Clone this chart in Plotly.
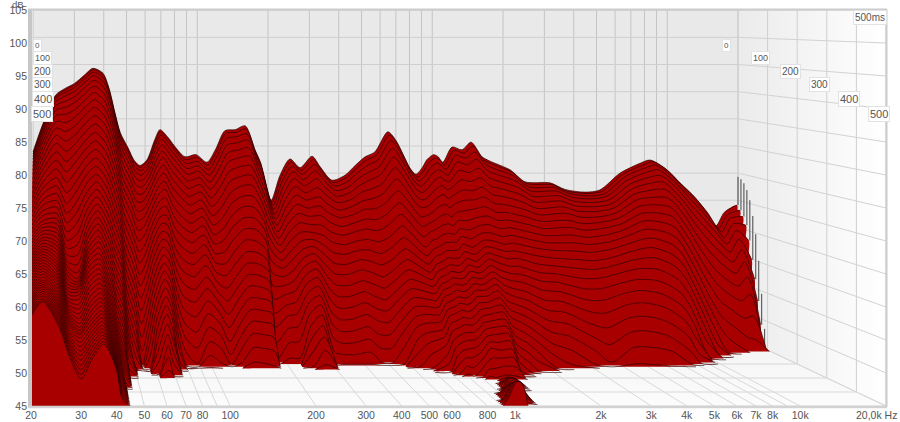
import math
import plotly.graph_objects as go

# ---- values: dB at t = 0, 10, 20 ... ms for one frequency each; lists stop at the 45 dB floor
F20 = [78.9,78.6,78.3,77.9,77.4,76.9,76.3,75.7,75,74.3,73.6,72.9,72.2,71.5,70.8,70.1,69.5,68.9,68.3,67.8,67.3,66.8,66.4,66,65.6,65.2,64.8,64.5,64.2,63.9,63.6,63.3,63,62.7,62.4,62.1,61.8,61.5,61.2,60.9,60.6,60.3,60.1,59.9,59.7,59.5,59.3,59.1,58.9,58.7,58.6]
F22 = [84,83.8,83.5,83.1,82.6,82,81.3,80.5,79.7,78.8,77.9,77,76,75,74.1,73.2,72.3,71.5,70.7,70,69.3,68.8,68.4,68,67.6,67.2,66.9,66.5,66.2,65.9,65.6,65.3,65,64.7,64.4,64.1,63.8,63.5,63.2,62.9,62.6,62.4,62.2,62,61.8,61.6,61.4,61.2,61,60.9,60.8]
F25 = [89.4,89.2,88.9,88.4,87.8,87,86.1,85.1,84,82.8,81.5,80.1,78.7,77.3,75.9,74.6,73.4,72.3,71.3,70.4,69.6,68.9,68.2,67.6,67,66.4,65.9,65.4,64.9,64.4,63.9,63.5,63.1,62.7,62.3,61.9,61.5,61.1,60.7,60.3,60,59.6,59.3,59,58.7,58.4,58.1,57.8,57.5,57.3,57.1]
F27 = [90.6,90.4,90,89.4,88.5,87.5,86.3,84.9,83.4,81.8,80.1,78.4,76.7,75,73.3,71.6,70,68.5,67.1,65.8,64.6,63.6,62.7,62,61.4,60.8,60.3,59.8,59.4,59,58.6,58.2,57.9,57.6,57.3,57,56.7,56.4,56.1,55.8,55.5,55.1,54.8,54.5,54.1,53.8,53.5,53.2,52.9,52.6,52.3]
F30 = [91.5,91.3,90.9,90.3,89.4,88.4,87.2,85.9,84.5,83,81.5,80,78.5,76.9,75.3,73.7,72,70.3,68.6,66.9,65.2,63.6,62.2,61,60.2,59.8,59.6,59.4,59.2,58.9,58.5,58,57.4,56.8,56.2,55.6,55,54.6,54.3,54.1,54,53.7,53.2,52.7,52.2,51.7,51.2,50.6,50.1,49.6,49.1]
F33 = [93,92.8,92.4,91.8,91,90,88.9,87.7,86.4,85,83.6,82.2,80.8,79.4,78,76.6,75.2,73.8,72.5,71.2,70,68.9,67.9,67,66.2,65.5,64.9,64.3,63.7,63.1,62.5,61.9,61.2,60.5,59.9,59.2,58.5,57.9,57.3,56.8,56.3,55.8,55.4,55,54.6,54.2,53.8,53.4,53,52.6,52.3]
F36 = [94.3,94.1,93.7,93.1,92.3,91.3,90.2,89,87.7,86.3,84.9,83.5,82.1,80.7,79.3,78,76.7,75.5,74.3,73.2,72.1,71.1,70.1,69.2,68.3,67.4,66.6,65.8,65,64.3,63.6,62.9,62.3,61.7,61.1,60.5,59.9,59.3,58.8,58.3,57.8,57.4,57,56.6,56.2,55.8,55.5,55.2,54.9,54.6,54.4]
F40 = [93.4,93.1,92.6,91.9,91,89.9,88.7,87.4,86,84.6,83.1,81.6,80.1,78.6,77.1,75.7,74.3,72.9,71.6,70.3,69.1,67.9,66.8,65.7,64.6,63.6,62.6,61.7,60.8,59.9,59.1,58.3,57.6,56.9,56.2,55.6,55,54.5,54,53.5,53.1,52.7,52.4,52.1,51.8,51.6,51.4,51.2,51,50.9,50.8]
F42 = [90.8,90.5,90,89.3,88.4,87.3,86.1,84.8,83.4,81.9,80.4,78.9,77.4,75.9,74.4,72.9,71.4,70,68.6,67.2,65.9,64.6,63.4,62.2,61.1,60,59,58,57.1,56.2,55.3,54.5,53.7,53,52.3,51.7,51.1,50.5,50,49.5,49,48.6,48.2,47.8,47.4,47.1,46.8,46.5,46.3,46.1,45.9]
F45 = [86,85.7,85.2,84.5,83.6,82.6,81.5,80.3,79,77.7,76.3,74.9,73.5,72.1,70.7,69.3,67.9,66.6,65.3,64,62.8,61.6,60.4,59.2,58.1,57,55.9,54.8,53.7,52.6,51.6,50.6,49.6,48.7,47.8,47,46.3,45.6,45.1]
F47 = [82.5,82.2,81.7,81,80.1,79,77.8,76.5,75.1,73.7,72.3,70.8,69.3,67.8,66.3,64.8,63.3,61.9,60.5,59.1,57.7,56.3,54.9,53.6,52.3,51,49.7,48.5,47.3,46.1,45.1]
F51 = [79.7,79.4,78.9,78.1,77.1,76,74.7,73.4,72,70.6,69.1,67.5,65.9,64.3,62.7,61.1,59.5,57.9,56.3,54.7,53.1,51.5,49.9,48.3,46.8,45.3]
F54 = [77.3,77,76.4,75.6,74.6,73.4,72.1,70.7,69.2,67.7,66.1,64.4,62.7,60.9,59.1,57.3,55.4,53.4,51.4,49.3,47.2,45.2]
F57 = [76.4,76.2,75.7,75,74.1,73.1,72,70.8,69.5,68.2,66.8,65.4,63.9,62.4,60.9,59.4,57.8,56.2,54.6,53,51.4,49.8,48.2,46.6,45.1]
F61 = [77.4,77.3,76.9,76.3,75.6,74.8,73.9,72.9,71.9,70.8,69.7,68.6,67.4,66.2,65,63.8,62.5,61.2,59.9,58.6,57.3,56,54.7,53.3,51.9,50.3,48.7,47,45.2]
F66 = [81.2,81,80.6,80,79.2,78.3,77.3,76.2,75.1,73.9,72.7,71.5,70.3,69.1,67.9,66.7,65.5,64.3,63.1,61.9,60.7,59.5,58.3,57,55.7,54.4,53,51.5,49.9,48.2,46.2]
F69 = [83,82.7,82.2,81.5,80.6,79.6,78.5,77.3,76,74.7,73.4,72,70.6,69.2,67.8,66.4,65,63.6,62.2,60.8,59.4,58,56.6,55.2,53.7,52.1,50.4,48.6,46.8,45.1]
F75 = [81.6,81.3,80.7,79.9,78.9,77.7,76.4,75,73.5,72,70.4,68.8,67.1,65.4,63.7,62,60.3,58.5,56.7,54.9,53,51.1,49.3,47.6,46,45.1]
F80 = [80,79.7,79.2,78.4,77.4,76.2,74.9,73.5,72.1,70.5,68.9,67.2,65.5,63.7,61.8,59.9,57.9,55.8,53.7,51.6,49.4,47.2,45.2]
F89 = [78,77.6,77,76.2,75.3,74.2,73,71.7,70.3,68.9,67.4,65.9,64.3,62.6,60.8,58.9,56.9,54.9,52.6,50.2,47.7,45.3]
F99 = [78.4,78,77.4,76.7,75.8,74.8,73.7,72.5,71.2,69.9,68.5,67.1,65.6,64.1,62.5,60.8,59,57.2,55.3,53.3,51.2,49,46.9,45.1]
F110 = [77,76.6,75.9,75,73.9,72.7,71.3,69.9,68.4,66.9,65.4,63.9,62.4,60.9,59.4,57.9,56.4,54.9,53.3,51.6,49.8,47.8,45.6]
F120 = [79.5,79.1,78.4,77.4,76.2,74.8,73.3,71.7,70,68.2,66.4,64.6,62.7,60.8,58.9,56.9,54.9,52.8,50.7,48.6,46.6,45.1]
F131 = [82.8,82.4,81.6,80.5,79.2,77.7,76.1,74.4,72.6,70.8,68.9,67,65,63,61,59,57.1,55.2,53.3,51.4,49.5,47.6,45.7]
F145 = [83,82.6,81.9,80.9,79.7,78.4,76.9,75.3,73.7,72,70.3,68.5,66.7,64.9,63,61.2,59.4,57.6,55.8,54,52.2,50.3,48.2,46]
F160 = [83.7,83.2,82.4,81.4,80.1,78.7,77.1,75.5,73.8,72,70.2,68.4,66.6,64.7,62.9,61.1,59.3,57.5,55.7,53.9,52.1,50.2,48.1,45.8]
F176 = [79.3,78.9,78.2,77.3,76.2,75,73.7,72.3,70.8,69.3,67.8,66.3,64.7,63.1,61.5,59.9,58.3,56.7,55.1,53.4,51.6,49.7,47.6,45.3]
F185 = [77.2,76.8,76.1,75.2,74.1,72.8,71.4,69.9,68.3,66.6,64.9,63.1,61.2,59.2,57.1,55,52.8,50.6,48.2,45.7]
F206 = [70,69.8,69.4,68.8,68.1,67.3,66.4,65.4,64.4,63.3,62.2,61,59.8,58.5,57.2,55.8,54.2,52.5,50.6,48.4,46]
F225 = [74.6,74.3,73.7,72.9,71.9,70.8,69.6,68.3,67,65.6,64.2,62.7,61.2,59.6,58,56.4,54.7,52.9,50.9,48.6,46]
F248 = [77.6,77.2,76.5,75.6,74.5,73.2,71.8,70.3,68.8,67.3,65.8,64.4,63.1,61.8,60.5,59.2,57.9,56.5,55,53.3,51.5,49.6,47.5,45.4]
F274 = [76,75.6,75,74.2,73.2,72.1,70.9,69.6,68.3,67,65.8,64.7,63.6,62.5,61.4,60.2,58.9,57.6,56.2,54.8,53.3,51.7,50,48,45.8]
F308 = [78.1,77.6,76.8,75.8,74.5,73,71.5,70,68.4,66.8,65.2,63.6,62,60.3,58.6,56.9,55.1,53.2,51.2,49.1,47,45.2]
F333 = [76.2,75.8,75.1,74.2,73,71.7,70.3,68.8,67.3,65.7,64.1,62.4,60.7,59,57.3,55.5,53.7,51.9,50.1,48.3,46.6,45.2]
F374 = [73.7,73.4,72.9,72.2,71.3,70.3,69.1,67.9,66.5,65.1,63.6,62.1,60.5,58.9,57.2,55.5,53.8,52,50.2,48.4,46.6,45.2]
F425 = [74.6,74.3,73.7,72.9,72,70.9,69.8,68.5,67.2,65.8,64.3,62.8,61.3,59.7,58,56.3,54.6,52.8,50.9,49,47,45.2]
F470 = [76.4,76,75.4,74.5,73.4,72.2,70.8,69.4,67.8,66.2,64.5,62.8,61,59.2,57.4,55.5,53.6,51.7,49.6,47.5,45.3]
F518 = [78,77.5,76.7,75.6,74.3,72.8,71.2,69.5,67.7,65.9,64.1,62.2,60.4,58.5,56.7,54.9,53.2,51.4,49.5,47.4,45.2]
F570 = [78.9,78.4,77.6,76.5,75.2,73.7,72.1,70.4,68.6,66.8,64.9,63.1,61.3,59.6,58,56.4,54.9,53.3,51.6,49.8,47.6,45.3]
F647 = [82.6,82.1,81.2,79.9,78.4,76.6,74.7,72.7,70.7,68.8,66.9,65,63.2,61.5,59.9,58.4,57,55.6,54.2,52.8,51.3,49.6,47.6,45.4]
F701 = [81,80.4,79.4,78.1,76.6,74.9,73.1,71.2,69.3,67.4,65.6,63.9,62.3,60.8,59.4,58.1,56.8,55.6,54.4,53.2,51.9,50.5,49,47.2,45.2]
F804 = [75.9,75.5,74.8,73.8,72.6,71.2,69.7,68.1,66.5,64.8,63.2,61.8,60.5,59.3,58.2,57.2,56.2,55.2,54.2,53.2,52.2,51.1,50,48.8,47.5,46.2,45.1]
F853 = [74.8,74.4,73.8,73,72,70.8,69.6,68.3,67,65.7,64.3,63,61.8,60.7,59.7,58.7,57.8,56.9,56,55.1,54.2,53.3,52.3,51.2,50.1,48.9,47.7,46.5,45.3]
F906 = [76,75.6,74.9,74,72.9,71.7,70.4,69,67.6,66.2,64.8,63.5,62.3,61.2,60.2,59.2,58.3,57.4,56.5,55.6,54.7,53.8,52.8,51.8,50.8,49.8,48.7,47.6,46.5,45.4]
F950 = [77.5,77,76.2,75.2,74,72.7,71.3,69.8,68.3,66.8,65.4,64.1,62.9,61.8,60.8,59.8,58.9,58,57.1,56.2,55.3,54.3,53.3,52.3,51.2,50.1,48.9,47.6,46.2,45.1,45,45,45,45,45,45,45,45,45,45,45,45,45,45,45,45,45.2,45.5,45.8,46,46.3]
F1014 = [78.4,77.9,77.1,76,74.8,73.4,71.9,70.3,68.7,67.1,65.6,64.2,62.9,61.7,60.6,59.6,58.7,57.8,56.9,56,55.1,54.1,53.1,52.2,51.2,50.2,49.2,48.2,47.2,46.2,45.2,45,45,45,45,45,45,45,45,45,45,45.3,45.7,46.2,46.7,47.1,47.5,47.8,48.2,48.5,48.7]
F1060 = [78,77.5,76.6,75.5,74.2,72.7,71.2,69.7,68.2,66.8,65.4,64.2,63,61.9,60.9,59.9,59,58.1,57.2,56.3,55.4,54.5,53.6,52.7,51.8,50.9,50,49.1,48.2,47.3,46.4,45.5,45,45,45,45,45,45,45.2,45.5,45.9,46.2,46.6,46.9,47.2,47.5,47.7,47.9,48.1,48.2,48.3]
F1109 = [77,76.6,75.9,75,74,72.9,71.7,70.4,69,67.7,66.4,65.2,64,62.9,61.9,60.9,60,59.1,58.2,57.3,56.4,55.5,54.6,53.7,52.8,51.9,51,50.2,49.4,48,46.5,45.3,45,45,45.2,45.5,45.9,46.3,46.7,47,47.2,47.3,47.4,47.4,47.3,47.1,46.8,46.4,46,45.5,45]
F1214 = [79.8,79.3,78.5,77.4,76,74.4,72.7,71,69.3,67.7,66.2,64.8,63.5,62.4,61.4,60.5,59.7,58.9,58.1,57.3,56.5,55.7,54.9,54.1,53.2,52.3,51.3,50.2,49.1,48,46.9,45.7,45.6,45.8,46,46.1,45.9,45.7,45.4,45.1]
F1339 = [79.3,78.8,78,76.9,75.6,74.1,72.6,71.1,69.7,68.3,67,65.8,64.7,63.7,62.8,61.9,61,60.1,59.2,58.3,57.4,56.4,55.4,54.4,53.4,52.4,51.4,50.4,49.3,48.1,46.8,45.5]
F1463 = [80.7,80.1,79.1,77.9,76.4,74.8,73.2,71.6,70,68.5,67.1,65.8,64.6,63.5,62.4,61.3,60.2,59.1,58,56.9,55.7,54.5,53.3,52,50.7,49.4,48.1,46.8,45.6,45.1]
F1629 = [78,77.5,76.8,75.8,74.6,73.2,71.8,70.4,69,67.7,66.4,65.2,64,62.9,61.8,60.7,59.6,58.5,57.3,56.1,54.9,53.6,52.3,50.9,49.5,48,46.5,45.2]
F1761 = [77.2,76.8,76.1,75.2,74.1,72.9,71.6,70.3,69,67.8,66.6,65.4,64.2,63,61.9,60.7,59.5,58.3,57,55.7,54.3,52.9,51.4,49.9,48.3,46.7,45.2]
F2143 = [75.6,75.3,74.7,73.9,72.9,71.8,70.6,69.4,68.2,67,65.8,64.6,63.4,62.2,60.9,59.6,58.3,56.9,55.4,53.9,52.3,50.6,48.8,47,45.2]
F2480 = [73.4,73.2,72.7,72.1,71.3,70.4,69.4,68.4,67.4,66.3,65.2,64.1,63,61.8,60.6,59.4,58.1,56.7,55.2,53.6,51.9,50,47.9,45.6]
F3170 = [73.2,73,72.6,72.1,71.4,70.6,69.7,68.7,67.6,66.5,65.3,64.1,62.8,61.5,60.1,58.6,57,55.3,53.5,51.6,49.6,47.5,45.3]
F3670 = [72,71.8,71.5,71,70.4,69.7,68.9,68,67,66,64.9,63.8,62.6,61.3,60,58.6,57,55.2,53.2,50.9,48.3,45.5]
F4465 = [71.5,71.4,71.1,70.7,70.2,69.6,68.9,68.1,67.3,66.4,65.4,64.3,63.2,62,60.8,59.5,58,56.4,54.6,52.6,50.4,48,45.5]
F5170 = [71.9,71.8,71.5,71.2,70.7,70.1,69.5,68.8,68,67.1,66.2,65.2,64.1,62.9,61.6,60.2,58.6,56.9,55,52.9,50.6,48.1,45.4]
F6300 = [75,74.9,74.6,74.1,73.5,72.8,72,71.1,70.1,69,67.8,66.5,65.1,63.6,62,60.2,58.3,56.3,54.2,52,49.7,47.4,45.1]
F7660 = [76.8,76.6,76.2,75.6,74.8,73.9,72.8,71.6,70.3,68.9,67.4,65.8,64.1,62.3,60.4,58.4,56.3,54.1,51.8,49.5,47.1,45.1]
F8450 = [77.4,77.2,76.7,76,75.1,74,72.8,71.4,69.9,68.3,66.5,64.6,62.6,60.5,58.3,56,53.6,51.2,48.8,46.5,45.1]
F9780 = [75.9,75.6,75,74.1,73,71.7,70.2,68.5,66.6,64.5,62.3,60,57.6,55.2,52.8,50.3,47.8,45.4]
F11330 = [73.2,72.8,72.1,71.1,69.8,68.2,66.4,64.3,62.1,59.7,57.2,54.6,52,49.4,46.9,45.1]
F12800 = [71,70.6,69.8,68.7,67.3,65.6,63.6,61.4,59,56.4,53.7,50.9,48.1,45.4]
F14480 = [68.2,67.8,67,66,64.7,63.1,61.3,59.2,56.9,54.5,51.9,49.1,46.2]
F16100 = [65.3,65,64.5,63.7,62.7,61.4,59.8,58,55.9,53.5,50.6,47.5]
F17500 = [67.8,67.5,67,66.2,65.1,63.7,62,60,57.5,54.6,51,47]
F19800 = [69.1,68.3,67.3,65.9,63.3,60,56.7,53,49,45.1]
F20000 = [74.3,74,73.4,72.3,70.6,67.9,64.8,60.2,54.5,48.5]

freqs = [20,22,25,27.4,30,33,36,39.7,42,44.7,47,50.7,54,57,61,66,69.4,75,80,88.7,98.8,110,120,131,145,160,176,185,206,225,248,274,308,333,374,425,470,518,570,647,701,804,853,906,950,1014,1060,1109,1214,1339,1463,1629,1761,2143,2480,3170,3670,4465,5170,6300,7660,8450,9780,11330,12800,14480,16100,17500,19800]
columns = [F20,F22,F25,F27,F30,F33,F36,F40,F42,F45,F47,F51,F54,F57,F61,F66,F69,F75,F80,F89,F99,F110,F120,F131,F145,F160,F176,F185,F206,F225,F248,F274,F308,F333,F374,F425,F470,F518,F570,F647,F701,F804,F853,F906,F950,F1014,F1060,F1109,F1214,F1339,F1463,F1629,F1761,F2143,F2480,F3170,F3670,F4465,F5170,F6300,F7660,F8450,F9780,F11330,F12800,F14480,F16100,F17500,F19800]
slice_ms = list(range(0, 501, 10))
FLOOR = 45
CEIL = 105

x_tick_vals = [20,30,40,50,60,70,80,100,200,300,400,500,600,800,1000,2000,3000,4000,5000,6000,7000,8000,10000]
x_tick_text = ["20","30","40","50","60","70","80","100","200","300","400","500","600","800","1k","2k","3k","4k","5k","6k","7k","8k","10k"]
y_ticks = [45,50,55,60,65,70,75,80,85,90,95,100,105]
grid_freqs = [20,30,40,50,60,70,80,90,100,200,300,400,500,600,700,800,900,1000,2000,3000,4000,5000,6000,7000,8000,9000,10000,20000]
grid_ms = [0,100,200,300,400,500]
left_labels = ["0","100","200","300","400","500"]
right_labels = ["0","100","200","300","400","500"]

# depth projection: the 500 ms plane is the axes' own plane, the 0 ms wall sits behind it
BACK_L0, BACK_LK = 2/285, 235/285
BACK_D0, BACK_DK = 70/6.6, 5.43/6.6

def project(hz, ms, db):
    L = math.log10(hz/20)
    u = ms/500
    d = db-FLOOR
    Lp = (BACK_L0+BACK_LK*L)*(1-u)+L*u
    dp = (BACK_D0+BACK_DK*d)*(1-u)+d*u
    return 20*10**Lp, FLOOR+dp

def poly(points):
    xy = [project(*p) for p in points]
    return [a for a, _ in xy], [b for _, b in xy]

def grid_trace(segments, color, width=1):
    xs, ys = [], []
    for seg in segments:
        a, b = poly(seg)
        xs += a+[None]
        ys += b+[None]
    return go.Scatter(x=xs, y=ys, mode="lines", line=dict(color=color, width=width), hoverinfo="skip", showlegend=False)

def edge(hz, ms, hi):
    # points down the closing side of a slice polygon, so the spline stays on the straight side
    out = []
    db = hi-2
    while db > FLOOR:
        out.append((hz, ms, db))
        db -= 2
    return out

fig = go.Figure()

# walls
x, y = poly([(20,0,FLOOR),(20000,0,FLOOR),(20000,0,CEIL),(20,0,CEIL),(20,0,FLOOR)])
fig.add_trace(go.Scatter(x=x, y=y, mode="lines", fill="toself", fillcolor="#e9e9e9", line=dict(width=0), hoverinfo="skip", showlegend=False))
x, y = poly([(20000,0,FLOOR),(20000,500,FLOOR),(20000,500,CEIL),(20000,0,CEIL),(20000,0,FLOOR)])
fig.add_trace(go.Scatter(x=x, y=y, mode="lines", fill="toself", line=dict(width=0), hoverinfo="skip", showlegend=False,
                         fillgradient=dict(type="horizontal", colorscale=[[0,"#ebebeb"],[1,"#ffffff"]])))
x, y = poly([(20,0,FLOOR),(20000,0,FLOOR),(20000,500,FLOOR),(20,500,FLOOR),(20,0,FLOOR)])
fig.add_trace(go.Scatter(x=x, y=y, mode="lines", fill="toself", line=dict(width=0), hoverinfo="skip", showlegend=False,
                         fillgradient=dict(type="vertical", colorscale=[[0,"#fcfcfc"],[1,"#f3f3f3"]])))

# grid
fig.add_trace(grid_trace([[(f,0,FLOOR),(f,0,CEIL)] for f in grid_freqs], "#c4c4c4"))
fig.add_trace(grid_trace([[(20,0,v),(20000,0,v)] for v in y_ticks], "#cfcfcf"))
fig.add_trace(grid_trace([[(20000,0,v),(20000,500,v)] for v in y_ticks], "#d2d2d2"))
fig.add_trace(grid_trace([[(20000,t,FLOOR),(20000,t,CEIL)] for t in grid_ms], "#cfcfcf"))
fig.add_trace(grid_trace([[(f,0,FLOOR),(f,500,FLOOR)] for f in grid_freqs], "#d8d8d8"))
fig.add_trace(grid_trace([[(20,t,FLOOR),(20000,t,FLOOR)] for t in grid_ms], "#d8d8d8"))

# slices, back to front
for k, ms in enumerate(slice_ms):
    vals = [c[k] if k < len(c) else FLOOR for c in columns]
    n = len(vals)
    active = [v > FLOOR for v in vals]
    keep = [active[i] or (i > 0 and active[i-1]) or (i < n-1 and active[i+1]) for i in range(n)]
    i = 0
    while i < n:
        if not keep[i]:
            i += 1
            continue
        j = i
        while j+1 < n and keep[j+1]:
            j += 1
        top = [(freqs[m], ms, vals[m]) for m in range(i, j+1)]
        a, b = poly(top)
        side = edge(freqs[j], ms, vals[j])
        bottom = [(freqs[m], ms, FLOOR) for m in range(j, i-1, -1)]
        back = edge(freqs[i], ms, vals[i])[::-1]
        ca, cb = poly(side+bottom+back)
        fig.add_trace(go.Scatter(x=a+ca, y=b+cb, mode="lines", fill="toself", fillcolor="#a80000",
                                 line=dict(width=0, shape="spline", smoothing=0.8), hoverinfo="skip", showlegend=False))
        fig.add_trace(go.Scatter(x=a, y=b, mode="lines", line=dict(color="rgba(35,0,0,0.72)", width=0.9, shape="spline", smoothing=0.8),
                                 hoverinfo="skip", showlegend=False))
        i = j+1
    if k < len(F20000):
        a, b = poly([(20000, ms, F19800[k] if k < len(F19800) else FLOOR), (20000, ms, F20000[k])])
        fig.add_trace(go.Scatter(x=a, y=b, mode="lines", line=dict(color="#444444", width=1), hoverinfo="skip", showlegend=False))

PX = lambda v: (v-31)/855
PY = lambda v: (406-v)/396
def box(text, left, mid, size):
    fig.add_annotation(xref="paper", yref="paper", x=PX(left), y=PY(mid), xanchor="left", yanchor="middle", text=text, showarrow=False,
                       bgcolor="#ffffff", bordercolor="#e2e2e2", borderwidth=1, borderpad=1,
                       font=dict(family="Liberation Sans", size=size, color="#555555"))

for lab, lf, md, sz in zip(left_labels, [33,33,32,32,32,31], [45.5,58,71,84.5,99,114.5], [8,9,10,10,11,11]):
    box(lab, lf, md, sz)
for lab, lf, md, sz in zip(right_labels, [722,751,780,809,838,868], [45.5,58,71,84.5,99,114.5], [8,9,10,10,11,11]):
    box(lab, lf, md, sz)
box("500ms", 853, 17.5, 10)

fig.add_annotation(xref="paper", yref="paper", x=PX(26), y=PY(4), xanchor="right", yanchor="middle", text="dB", showarrow=False,
                   font=dict(family="Liberation Sans", size=9.5, color="#555555"))
fig.add_annotation(xref="paper", yref="paper", x=PX(899), y=PY(415), xanchor="right", yanchor="middle", text="20,0k Hz", showarrow=False,
                   font=dict(family="Liberation Sans", size=10.5, color="#555555"))

for sh in [dict(x0=PX(30), x1=PX(30), y0=PY(406), y1=PY(9), width=4, color="#c6c6c6"),
           dict(x0=PX(28), x1=PX(887), y0=PY(9.5), y1=PY(9.5), width=2, color="#cccccc"),
           dict(x0=PX(886.5), x1=PX(886.5), y0=PY(407), y1=PY(9), width=2, color="#cccccc"),
           dict(x0=PX(28), x1=PX(887), y0=PY(407), y1=PY(407), width=2.5, color="#d2d2d2")]:
    fig.add_shape(type="line", xref="paper", yref="paper", x0=sh["x0"], x1=sh["x1"], y0=sh["y0"], y1=sh["y1"],
                  line=dict(color=sh["color"], width=sh["width"]), layer="above")

fig.update_layout(width=900, height=422, margin=dict(l=31, r=14, t=10, b=16), showlegend=False,
                  paper_bgcolor="#ffffff", plot_bgcolor="#ffffff",
                  font=dict(family="Liberation Sans", size=10.5, color="#555555"),
                  xaxis=dict(type="log", range=[math.log10(20), math.log10(20000)], showgrid=False, zeroline=False, showline=False,
                             tickmode="array", tickvals=x_tick_vals, ticktext=x_tick_text, ticks="", tickangle=0, automargin=False,
                             ticklabelstandoff=1),
                  yaxis=dict(range=[FLOOR, CEIL], showgrid=False, zeroline=False, showline=False,
                             tickmode="array", tickvals=y_ticks, ticks="", automargin=False, ticklabelstandoff=3))
fig.write_html("out.html", config=dict(displayModeBar=False),
               post_script="document.body.style.margin='0';document.documentElement.style.overflow='hidden';")
